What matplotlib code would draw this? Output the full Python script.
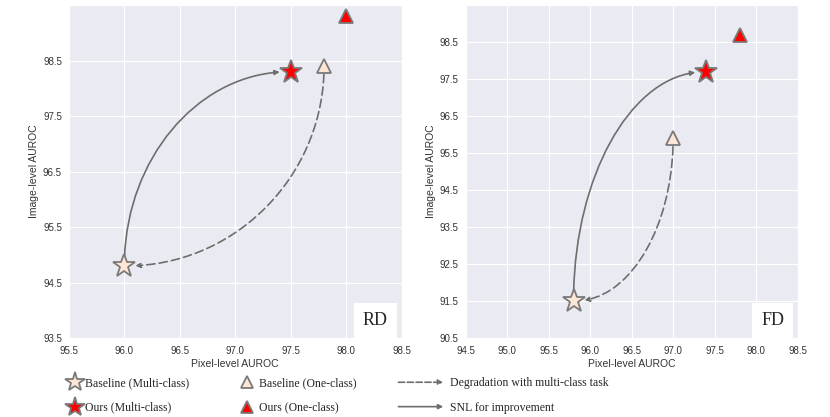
import numpy as np
import matplotlib
matplotlib.use("Agg")
import matplotlib.pyplot as plt
import seaborn as sns
from matplotlib.lines import Line2D
from matplotlib.patches import FancyArrowPatch, ConnectionStyle
from matplotlib.path import Path
from matplotlib.legend_handler import HandlerBase

sns.set_style("darkgrid")
plt.rcParams['font.family'] = ['Liberation Sans', 'DejaVu Sans']

# data: (pixel AUROC, image AUROC)
datasets = ["RD", "FD"]
base_multi = [(96.0, 94.8), (95.8, 91.5)]
ours_multi = [(97.5, 98.3), (97.4, 97.7)]
base_one = [(97.8, 98.4), (97.0, 95.9)]
ours_one = [(98.0, 99.3), (97.8, 98.7)]
xlims = [(95.5, 98.5), (94.5, 98.5)]
ylims = [(93.5, 99.5), (90.5, 99.5)]
xticks = [np.arange(95.5, 98.51, 0.5), np.arange(94.5, 98.51, 0.5)]
yticks = [np.arange(93.5, 98.51, 1.0), np.arange(90.5, 98.51, 1.0)]

base_fc = "#fde6d6"
edge = "#7a7a7a"
arrow_c = "#6e6e6e"
serif = "Liberation Serif"


class QuarterArc(ConnectionStyle._Base):
    # leaves A vertically, arrives at B horizontally (quarter ellipse)
    def connect(self, posA, posB):
        (xa, ya), (xb, yb) = posA, posB
        k = 0.5523
        verts = [(xa, ya), (xa, ya + k * (yb - ya)),
                 (xb + k * (xa - xb), yb), (xb, yb)]
        return Path(verts, [Path.MOVETO, Path.CURVE4, Path.CURVE4, Path.CURVE4])


fig = plt.figure(figsize=(8.3, 4.17), dpi=100)
axes = [fig.add_axes([0.083, 0.189, 0.401, 0.799]),
        fig.add_axes([0.561, 0.189, 0.400, 0.799])]
boxx = [0.92, 0.925]

for i, ax in enumerate(axes):
    ax.set_xlim(*xlims[i])
    ax.set_ylim(*ylims[i])
    ax.set_xticks(xticks[i])
    ax.set_yticks(yticks[i])
    ax.tick_params(labelsize=7, colors="#333333", length=0)
    ax.tick_params(axis="x", pad=5.5)
    ax.tick_params(axis="y", pad=5)
    ax.set_xlabel("Pixel-level AUROC", fontsize=7.5, color="#333333", labelpad=2)
    ax.set_ylabel("Image-level AUROC", fontsize=7.5, color="#333333", labelpad=3)

    # arrows
    ax.annotate("", xy=ours_multi[i], xytext=base_multi[i],
                arrowprops=dict(arrowstyle="-|>", mutation_scale=7,
                                connectionstyle=QuarterArc(),
                                color=arrow_c, lw=1.2, shrinkA=6, shrinkB=8))
    ax.annotate("", xy=base_multi[i], xytext=base_one[i],
                arrowprops=dict(arrowstyle="-|>", mutation_scale=7,
                                connectionstyle=QuarterArc(),
                                color=arrow_c, lw=1.2, ls=(0, (5, 2.5)),
                                shrinkA=6, shrinkB=8))

    ax.plot(*base_multi[i], marker="*", ms=17, mfc=base_fc, mec=edge, mew=1.3, zorder=5)
    ax.plot(*ours_multi[i], marker="*", ms=17, mfc="red", mec=edge, mew=1.3, zorder=5)
    ax.plot(*base_one[i], marker="^", ms=10, mfc=base_fc, mec=edge, mew=1.3, zorder=5)
    ax.plot(*ours_one[i], marker="^", ms=10, mfc="red", mec=edge, mew=1.3, zorder=5)

    ax.text(boxx[i], 0.054, datasets[i], transform=ax.transAxes, ha="center", va="center",
            fontsize=13, family=serif,
            bbox=dict(boxstyle="square,pad=0.5", fc="white", ec="none"))


class ArrowHandler(HandlerBase):
    def create_artists(self, legend, orig_handle, xdescent, ydescent, width, height,
                       fontsize, trans):
        y = height / 2 - ydescent
        a = FancyArrowPatch((-xdescent, y), (width - xdescent, y), arrowstyle="-|>",
                            mutation_scale=7, color=arrow_c, lw=1.2,
                            linestyle=orig_handle.get_linestyle(), shrinkA=0, shrinkB=0,
                            transform=trans)
        return [a]


leg_kw = dict(loc="upper left", frameon=False, borderpad=0, borderaxespad=0,
              prop={"family": serif, "size": 8.5}, labelspacing=1.05)

h1 = [Line2D([], [], ls="", marker="*", ms=15, mfc=base_fc, mec=edge, mew=1.3),
      Line2D([], [], ls="", marker="*", ms=15, mfc="red", mec=edge, mew=1.3)]
fig.legend(h1, ["Baseline (Multi-class)", "Ours (Multi-class)"],
           bbox_to_anchor=(0.083, 0.095), handlelength=1.0, handletextpad=0.4, **leg_kw)

h2 = [Line2D([], [], ls="", marker="^", ms=9, mfc=base_fc, mec=edge, mew=1.3),
      Line2D([], [], ls="", marker="^", ms=9, mfc="red", mec=edge, mew=1.3)]
fig.legend(h2, ["Baseline (One-class)", "Ours (One-class)"],
           bbox_to_anchor=(0.291, 0.095), handlelength=1.0, handletextpad=0.5, **leg_kw)

h3 = [Line2D([], [], ls=(0, (5, 2.5)), color=arrow_c),
      Line2D([], [], ls="-", color=arrow_c)]
fig.legend(h3, ["Degradation with multi-class task", "SNL for improvement"],
           bbox_to_anchor=(0.48, 0.095), handlelength=3.8, handletextpad=0.6,
           handler_map={Line2D: ArrowHandler()}, **leg_kw)

fig.savefig("out.png", dpi=100)
